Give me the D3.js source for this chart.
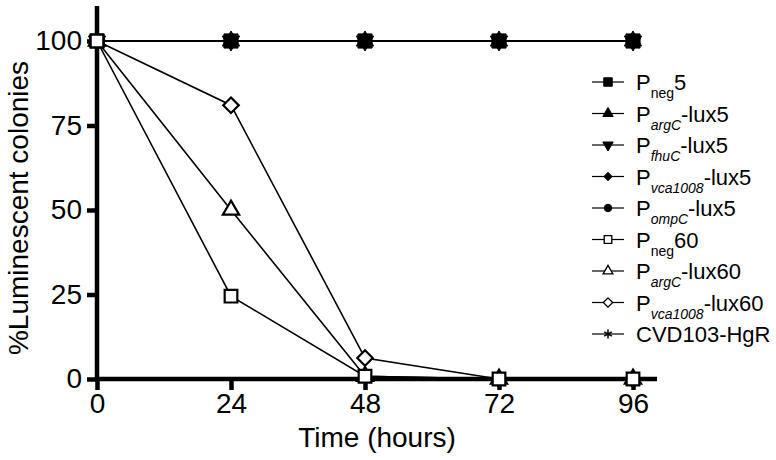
<!DOCTYPE html>
<html>
<head>
<meta charset="utf-8">
<script src="https://cdn.jsdelivr.net/npm/d3@7"></script>
<style>
  body { margin: 0; background: #fff; }
  svg { display: block; font-family: "Liberation Sans", Arial, sans-serif; }
</style>
</head>
<body>
<svg id="chart"></svg>
<script>
// time points (hours)
var hours = [0, 24, 48, 72, 96];
var xTicks = [0, 24, 48, 72, 96];
var yTicks = [0, 25, 50, 75, 100];

// series values, % luminescent colonies
var pneg5 = [100, 100, 100, 100, 100];
var pargc5 = [100, 100, 100, 100, 100];
var pfhuc5 = [100, 100, 100, 100, 100];
var pvca5 = [100, 100, 100, 100, 100];
var pompc5 = [100, 100, 100, 100, 100];
var pneg60 = [100, 24.5, 0.8, 0, 0];
var pargc60 = [100, 50, 0.8, 0, 0];
var pvca60 = [100, 81, 6.2, 0, 0];
var cvd = [100, 100, 100, 100, 100];

// legend labels: main, subscript, suffix
var labelMain = ["P", "P", "P", "P", "P", "P", "P", "P", "CVD103-HgR"];
var labelSub = ["neg", "argC", "fhuC", "vca1008", "ompC", "neg", "argC", "vca1008", ""];
var labelSuffix = ["5", "-lux5", "-lux5", "-lux5", "-lux5", "60", "-lux60", "-lux60", ""];

var series = [
  {vals: pneg5, shape: "square", fill: true, z: 5},
  {vals: pargc5, shape: "tri", fill: true, z: 4},
  {vals: pfhuc5, shape: "tridown", fill: true, z: 3},
  {vals: pvca5, shape: "diamond", fill: true, z: 2},
  {vals: pompc5, shape: "circle", fill: true, z: 1},
  {vals: pneg60, shape: "square", fill: false, z: 9},
  {vals: pargc60, shape: "tri", fill: false, z: 8},
  {vals: pvca60, shape: "diamond", fill: false, z: 7},
  {vals: cvd, shape: "star", fill: true, z: 0}
];

var width = 776, height = 460;
var svg = d3.select("#chart").attr("width", width).attr("height", height);

var x = d3.scaleLinear().domain([0, 96]).range([97, 633]);
var y = d3.scaleLinear().domain([0, 100]).range([379, 41]);

function symbolFor(shape) {
    if (shape == "square" || shape == "diamond") return d3.symbolSquare;
    if (shape == "tri" || shape == "tridown") return d3.symbolTriangle;
    if (shape == "circle") return d3.symbolCircle;
    return d3.symbolAsterisk;
}

function drawMarker(g, s, cx, cy, scale) {
    var sizes = {square: 200, tri: 130, tridown: 130, diamond: 90, circle: 120, star: 150};
    var open = {square: 160, tri: 115, diamond: 120};
    var size = s.fill ? sizes[s.shape] : open[s.shape];
    size = size * scale * scale;
    var rot = "";
    if (s.shape == "tridown") rot = " rotate(180)";
    if (s.shape == "diamond") rot = " rotate(45)";
    var p = g.append("path")
        .attr("d", d3.symbol().type(symbolFor(s.shape)).size(size)())
        .attr("transform", "translate(" + cx + "," + cy + ")" + rot);
    if (s.shape == "star") {
        p.attr("fill", "none").attr("stroke", "#000").attr("stroke-width", 2.5 * scale);
    } else if (s.fill) {
        p.attr("fill", "#000").attr("stroke", "#000").attr("stroke-width", 1);
    } else {
        p.attr("fill", "#fff").attr("stroke", "#000").attr("stroke-width", 2.2 * scale);
    }
}

// lines
var line = d3.line()
    .x(function(d, i) { return x(hours[i]); })
    .y(function(d) { return y(d); });

var lines = svg.append("g");
series.forEach(function(s) {
    lines.append("path")
        .datum(s.vals)
        .attr("d", line)
        .attr("fill", "none")
        .attr("stroke", "#000")
        .attr("stroke-width", 1.6);
});

// axes
var xAxis = svg.append("g")
    .attr("transform", "translate(0," + y(0) + ")")
    .call(d3.axisBottom(x).tickValues(xTicks).tickSize(11).tickPadding(3).tickSizeOuter(0));
xAxis.select(".domain").attr("d", "M95,0H657").attr("stroke-width", 4.5);
xAxis.selectAll(".tick line").attr("stroke-width", 4.5);
xAxis.selectAll(".tick text").attr("font-size", 28).attr("fill", "#000").attr("font-family", "Liberation Sans, Arial");

var yAxis = svg.append("g")
    .attr("transform", "translate(" + x(0) + ",0)")
    .call(d3.axisLeft(y).tickValues(yTicks).tickSize(10).tickPadding(5).tickSizeOuter(0));
yAxis.select(".domain").attr("d", "M0,6V381").attr("stroke-width", 4.5);
yAxis.selectAll(".tick line").attr("stroke-width", 4.5);
yAxis.selectAll(".tick text").attr("font-size", 28).attr("fill", "#000").attr("font-family", "Liberation Sans, Arial");

// markers on top of the axes, in stacking order
var marks = svg.append("g");
series.slice().sort(function(a, b) { return a.z - b.z; }).forEach(function(s) {
    s.vals.forEach(function(v, i) {
        drawMarker(marks, s, x(hours[i]), y(v), 1);
    });
});

// axis titles
svg.append("text")
    .attr("x", 377).attr("y", 447)
    .attr("text-anchor", "middle")
    .attr("font-size", 28)
    .text("Time (hours)");

svg.append("text")
    .attr("transform", "translate(28,208) rotate(-90)")
    .attr("text-anchor", "middle")
    .attr("font-size", 28)
    .text("%Luminescent colonies");

// legend
var legend = svg.append("g");
series.forEach(function(s, i) {
    var ly = 82 + i * 31.5;
    legend.append("line")
        .attr("x1", 592).attr("x2", 624)
        .attr("y1", ly).attr("y2", ly)
        .attr("stroke", "#000").attr("stroke-width", 1.2);
    drawMarker(legend, s, 608, ly, 0.6);
    var t = legend.append("text")
        .attr("x", 636).attr("y", ly + 8)
        .attr("font-size", 22);
    t.append("tspan").text(labelMain[i]);
    if (labelSub[i]) {
        t.append("tspan")
            .attr("font-size", 14)
            .attr("dy", 8)
            .attr("font-style", labelSub[i] == "neg" ? "normal" : "italic")
            .text(labelSub[i]);
        t.append("tspan").attr("dy", -8).text(labelSuffix[i]);
    }
});
</script>
</body>
</html>
